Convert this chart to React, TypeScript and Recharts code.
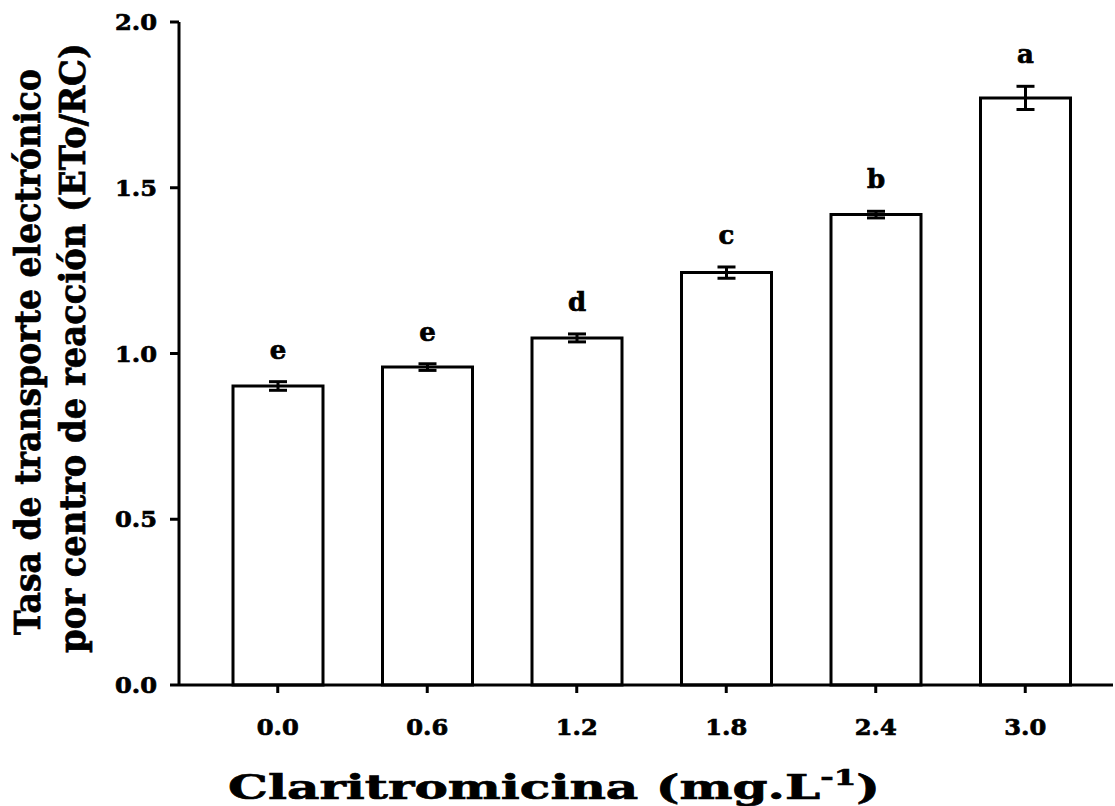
import { BarChart, Bar, XAxis, YAxis, ErrorBar, LabelList, Label } from 'recharts';

const doses = ['0.0', '0.6', '1.2', '1.8', '2.4', '3.0'];
const means = [0.902, 0.959, 1.047, 1.244, 1.419, 1.771];
const errors = [0.013, 0.01, 0.012, 0.017, 0.01, 0.035];
const letters = ['e', 'e', 'd', 'c', 'b', 'a'];
const yTicks = [0, 0.5, 1.0, 1.5, 2.0];

const FONT = '"DejaVu Serif", serif';
// thin outline on the glyphs to get closer to the heavy face of the original
const HEAVY = { stroke: '#000', strokeWidth: 0.7 };

const data = doses.map((dose, i) => ({
  dose,
  mean: means[i],
  err: errors[i],
  letter: letters[i],
}));

// letter sits a fixed distance above the top of the error bar
const renderLetter = (props: any) => {
  const { x, y, width, height, index, value } = props;
  const pxPerUnit = height / means[index];
  const top = y - errors[index] * pxPerUnit;
  return (
    <text
      x={x + width / 2}
      y={top - 23}
      textAnchor="middle"
      fontFamily={FONT}
      fontWeight="bold"
      fontSize={26}
      fill="#000"
      {...HEAVY}
    >
      {value}
    </text>
  );
};

const XTick = (props: any) => {
  const { x, y, payload } = props;
  return (
    <text x={x} y={y + 22} textAnchor="middle" fontFamily={FONT} fontWeight="bold" fontSize={23} fill="#000"
      textLength={42} lengthAdjust="spacingAndGlyphs" {...HEAVY}>
      {payload.value}
    </text>
  );
};

const YTick = (props: any) => {
  const { x, y, payload } = props;
  return (
    <text x={x} y={y + 8} textAnchor="end" fontFamily={FONT} fontWeight="bold" fontSize={23} fill="#000"
      textLength={42} lengthAdjust="spacingAndGlyphs" {...HEAVY}>
      {Number(payload.value).toFixed(1)}
    </text>
  );
};

const YTitle = () => {
  const lines = [
    { text: 'Tasa de transporte electrónico', x: 40, cy: 352, len: 566 },
    { text: 'por centro de reacción (ETo/RC)', x: 85, cy: 348, len: 610 },
  ];
  return (
    <g>
      {lines.map(l => (
        <text
          key={l.text}
          x={l.x}
          y={l.cy}
          transform={`rotate(-90, ${l.x}, ${l.cy})`}
          textAnchor="middle"
          fontFamily={FONT}
          fontWeight="bold"
          fontSize={35}
          fill="#000"
          textLength={l.len}
          lengthAdjust="spacingAndGlyphs"
          {...HEAVY}
        >
          {l.text}
        </text>
      ))}
    </g>
  );
};

const XTitle = () => (
  <text x={554} y={799} textAnchor="middle" fontFamily={FONT} fontWeight="bold" fontSize={34} fill="#000"
    textLength={652} lengthAdjust="spacingAndGlyphs" {...HEAVY}>
    Claritromicina (mg.L
    <tspan dy={-14} fontSize={22}>-1</tspan>
    <tspan dy={14}>)</tspan>
  </text>
);

export default function App() {
  return (
    <div style={{ position: 'absolute', left: 0, top: 0, background: '#fff' }}>
      <BarChart
        width={1115}
        height={806}
        data={data}
        margin={{ top: 22, right: 2, bottom: 0, left: 0 }}
      >
        <XAxis
          dataKey="dose"
          height={121}
          padding={{ left: 24, right: 13 }}
          axisLine={{ stroke: '#000', strokeWidth: 3 }}
          tickLine={{ stroke: '#000', strokeWidth: 3 }}
          tickSize={8}
          tickMargin={20}
          tick={<XTick />}
        >
          <Label content={<XTitle />} />
        </XAxis>
        <YAxis
          width={179}
          domain={[0, 2]}
          ticks={yTicks}
          axisLine={{ stroke: '#000', strokeWidth: 3 }}
          tickLine={{ stroke: '#000', strokeWidth: 3 }}
          tickSize={9}
          tickMargin={13}
          tick={<YTick />}
        >
          <Label content={<YTitle />} />
        </YAxis>
        <Bar
          dataKey="mean"
          barSize={90}
          fill="#fff"
          stroke="#000"
          strokeWidth={3}
          isAnimationActive={false}
        >
          <ErrorBar dataKey="err" width={9} stroke="#000" strokeWidth={3} />
          <LabelList dataKey="letter" content={renderLetter} />
        </Bar>
      </BarChart>
    </div>
  );
}
